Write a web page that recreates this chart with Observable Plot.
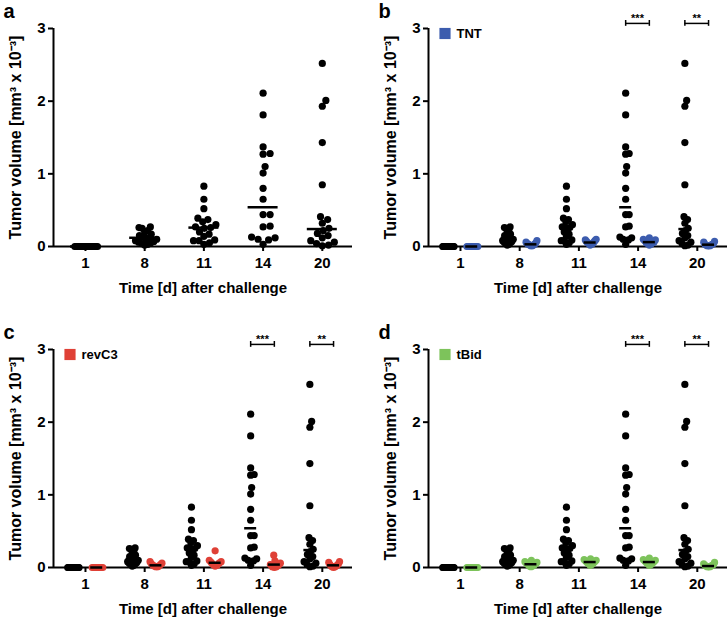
<!DOCTYPE html>
<html>
<head>
<meta charset="utf-8">
<script src="https://cdn.jsdelivr.net/npm/d3@7"></script>
<script src="https://cdn.jsdelivr.net/npm/@observablehq/plot@0.6"></script>
<style>
  html, body { margin: 0; padding: 0; background: #fff; }
  #root { position: relative; width: 728px; height: 622px; background: #fff; font-family: "Liberation Sans", Arial, sans-serif; }
  .panel { position: absolute; }
</style>
</head>
<body>
<div id="root"></div>
<script>
// ---- Data ----
const days = ["1", "8", "11", "14", "20"];

const control = [
  [0,0,0,0,0,0,0,0,0,0,0,0,0,0,0,0,0,0],
  [0.27,0.26,0.25,0.22,0.20,0.17,0.15,0.13,0.12,0.11,0.10,0.08,0.07,0.06,0.05,0.04,0.03,0.02],
  [0.83,0.65,0.52,0.39,0.37,0.34,0.30,0.27,0.26,0.25,0.20,0.17,0.14,0.09,0.08,0.08,0.05,0.03],
  [2.11,1.81,1.37,1.28,1.27,1.10,1.01,0.80,0.65,0.44,0.44,0.28,0.27,0.13,0.12,0.10,0.09,0.03],
  [2.52,2.01,1.93,1.43,0.85,0.41,0.37,0.32,0.25,0.22,0.18,0.15,0.12,0.08,0.06,0.04,0.02,0.01]
];
const controlMedian = [0, 0.12, 0.26, 0.54, 0.24];

const tnt = [
  [0,0,0,0,0,0,0,0,0,0],
  [0.08,0.06,0.05,0.04,0.03,0.03,0.02,0.02,0.01,0.01],
  [0.10,0.09,0.08,0.07,0.06,0.05,0.04,0.04,0.03,0.02],
  [0.12,0.10,0.09,0.08,0.06,0.05,0.05,0.04,0.03,0.02],
  [0.07,0.06,0.04,0.03,0.03,0.02,0.02,0.01,0.01,0.01]
];
const tntMedian = [0, 0.03, 0.055, 0.06, 0.025];

const revC3 = [
  [0,0,0,0,0,0,0,0],
  [0.08,0.06,0.05,0.04,0.03,0.02,0.02,0.01,0.01],
  [0.23,0.10,0.08,0.07,0.06,0.04,0.03,0.02],
  [0.17,0.09,0.06,0.04,0.03,0.01,0.01,0.00],
  [0.08,0.07,0.05,0.04,0.03,0.02,0.02,0.01,0.01,0.00]
];
const revC3Median = [0, 0.03, 0.065, 0.04, 0.03];

const tBid = [
  [0,0,0,0,0,0,0,0,0,0],
  [0.10,0.08,0.07,0.06,0.05,0.04,0.03,0.02,0.02,0.01],
  [0.12,0.11,0.10,0.09,0.08,0.07,0.06,0.05,0.04,0.03],
  [0.13,0.11,0.10,0.09,0.08,0.07,0.06,0.05,0.04,0.03],
  [0.07,0.05,0.04,0.03,0.03,0.02,0.02,0.01,0.01,0.01]
];
const tBidMedian = [0, 0.045, 0.075, 0.075, 0.02];

const sigDays = [3, 4];
const sigLabels = ["***", "**"];

const yTicks = [0, 1, 2, 3];
const xLabel = "Time [d] after challenge";
const yLabel = "Tumor volume [mm\u00B3 x 10\u207B\u00B3]";

// ---- Layout ----
const PW = 353, PH = 301, ML = 53, MR = 1, MT = 28, MB = 55;
const xDomain = [-0.54, 4.51];
const yDomain = [0, 3];
const pxPerX = (PW - ML - MR) / (xDomain[1] - xDomain[0]);
const pxPerY = (PH - MT - MB) / (yDomain[1] - yDomain[0]);
const FONT = "'Liberation Sans', Arial, Helvetica, sans-serif";

// deterministic beeswarm (pixel space), compressed to max half-width W
function swarm(values, D, W) {
  const pts = values.map(v => ({v, py: v * pxPerY, px: 0})).sort((a, b) => a.py - b.py);
  const placed = [];
  for (const p of pts) {
    let best = 0;
    for (let k = 0; k < 2000; k++) {
      const cand = k === 0 ? 0 : (k % 2 ? 1 : -1) * Math.ceil(k / 2) * 0.5;
      if (placed.every(q => (q.px - cand) ** 2 + (q.py - p.py) ** 2 >= D * D)) { best = cand; break; }
    }
    p.px = best;
    placed.push(p);
  }
  const m = d3.max(pts, p => Math.abs(p.px)) || 0;
  const s = m > W ? W / m : 1;
  return pts.map(p => ({v: p.v, off: p.px * s}));
}

function clusterData(series, groupOffset, W) {
  const out = [];
  series.forEach((vals, i) => {
    for (const p of swarm(vals, 6.8, W)) out.push({i, v: p.v, x: i + groupOffset + p.off / pxPerX});
  });
  return out;
}

function panel({letter, left, top, groups, legend, sig}) {
  const marks = [
    Plot.ruleY([0], {x1: xDomain[0], x2: xDomain[1], strokeWidth: 2}),
    Plot.ruleX([xDomain[0]], {y1: yDomain[0], y2: yDomain[1], strokeWidth: 2}),
    Plot.axisY({ticks: yTicks, tickFormat: d => String(d), tickSize: 5, tickPadding: 3, strokeWidth: 2, label: null, fontSize: 15}),
    Plot.axisX({ticks: [0, 1, 2, 3, 4], tickFormat: i => days[i], tickSize: 5, tickPadding: 6, strokeWidth: 2, label: null, fontSize: 15})
  ];
  for (const g of groups) {
    marks.push(Plot.dot(clusterData(g.values, g.offset, g.W), {x: "x", y: "v", r: 3.6, fill: g.color, stroke: "none"}));
  }
  for (const g of groups) {
    marks.push(Plot.ruleY(g.medians, {
      y: d => d,
      x1: (d, i) => i + g.offset - g.halfW / pxPerX,
      x2: (d, i) => i + g.offset + g.halfW / pxPerX,
      stroke: "black", strokeWidth: 2.5
    }));
  }
  if (sig) {
    const oL = sig.left, oR = sig.right, by = 3.07;
    marks.push(Plot.ruleY(sigDays, {y: by, x1: d => d + oL, x2: d => d + oR, strokeWidth: 1.5}));
    marks.push(Plot.ruleX(sigDays.flatMap(d => [d + oL, d + oR]), {x: d => d, y1: by - 0.04, y2: by + 0.04, strokeWidth: 1.5}));
    marks.push(Plot.text(sigDays, {x: d => d + (oL + oR) / 2, y: by, dy: -5, text: (d, i) => sigLabels[i], fontSize: 11}));
  }
  if (legend) {
    marks.push(Plot.dot([legend.label], {frameAnchor: "top-left", dx: 16.5, dy: 5, symbol: "square", r: 6.3, fill: legend.color}));
    marks.push(Plot.text([legend.label], {frameAnchor: "top-left", dx: 28, dy: 5, text: d => d, textAnchor: "start", lineAnchor: "middle", fontSize: 13}));
  }
  marks.push(Plot.text([xLabel], {frameAnchor: "bottom", dy: 42, text: d => d, textAnchor: "middle", lineAnchor: "middle", fontSize: 15}));
  marks.push(Plot.text([yLabel], {frameAnchor: "left", dx: -38, rotate: -90, text: d => d, textAnchor: "middle", lineAnchor: "middle", fontSize: 16}));
  marks.push(Plot.text([letter], {frameAnchor: "top-left", dx: -50, dy: -17, text: d => d, textAnchor: "start", lineAnchor: "middle", fontSize: 20}));

  const chart = Plot.plot({
    width: PW, height: PH,
    marginLeft: ML, marginRight: MR, marginTop: MT, marginBottom: MB,
    x: {domain: xDomain, axis: null},
    y: {domain: yDomain, axis: null},
    style: {fontFamily: FONT, fontSize: "15px", fontWeight: "bold", color: "black", background: "white", overflow: "visible"},
    marks
  });
  const div = document.createElement("div");
  div.className = "panel";
  div.style.left = left + "px";
  div.style.top = top + "px";
  div.appendChild(chart);
  document.getElementById("root").appendChild(div);
}

const BLACK = "#000000", BLUE = "#3c5cae", RED = "#df4036", GREEN = "#7dc35b";
const offL = -0.21, offR = 0.19;

panel({
  letter: "a", left: 0, top: 0,
  groups: [{values: control, medians: controlMedian, color: BLACK, offset: 0, W: 12, halfW: 15}]
});
panel({
  letter: "b", left: 375, top: 0,
  groups: [
    {values: control, medians: controlMedian, color: BLACK, offset: offL, W: 6, halfW: 6},
    {values: tnt, medians: tntMedian, color: BLUE, offset: offR, W: 6, halfW: 6}
  ],
  legend: {label: "TNT", color: BLUE},
  sig: {left: offL, right: offR}
});
panel({
  letter: "c", left: 0, top: 321,
  groups: [
    {values: control, medians: controlMedian, color: BLACK, offset: offL, W: 6, halfW: 6},
    {values: revC3, medians: revC3Median, color: RED, offset: offR, W: 6, halfW: 6}
  ],
  legend: {label: "revC3", color: RED},
  sig: {left: offL, right: offR}
});
panel({
  letter: "d", left: 375, top: 321,
  groups: [
    {values: control, medians: controlMedian, color: BLACK, offset: offL, W: 6, halfW: 6},
    {values: tBid, medians: tBidMedian, color: GREEN, offset: offR, W: 6, halfW: 6}
  ],
  legend: {label: "tBid", color: GREEN},
  sig: {left: offL, right: offR}
});
</script>
</body>
</html>
